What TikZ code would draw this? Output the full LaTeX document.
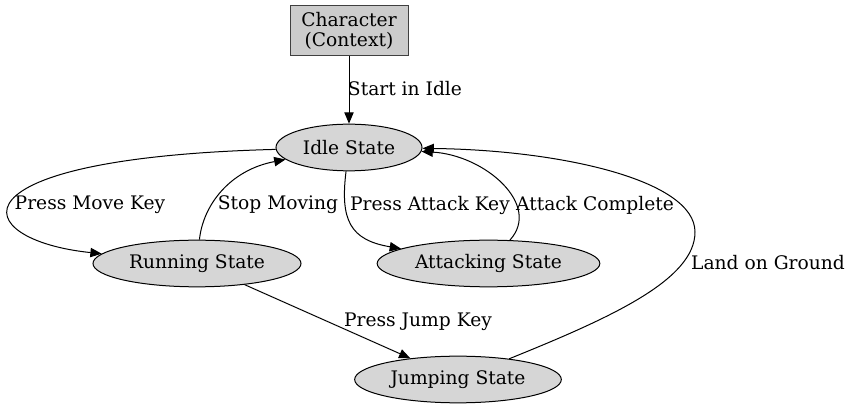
\documentclass[tikz,border=0pt]{standalone}
\usepackage{fontspec}
\setmainfont{DejaVu Serif}
\usetikzlibrary{shapes.geometric, arrows.meta}

\begin{document}
\begin{tikzpicture}[x=0.75pt, y=-0.75pt, ->, >={Triangle[length=8.5pt, width=7pt]}, line width=0.75pt, font=\fontsize{14}{15}\selectfont,
  state/.style={ellipse, draw, fill=black!16, inner sep=0pt, minimum height=35pt},
  lbl/.style={inner sep=0pt}]
\useasboundingbox (0,0) rectangle (850,409);
\node[draw=black!75, fill=black!20, minimum width=88.5pt, minimum height=38pt, align=center, inner sep=0pt] (ctx) at (349,30.5) {Character\\(Context)};
\node[state, minimum width=109.5pt] (idle) at (349,147.5) {Idle State};
\node[state, minimum width=156pt] (run) at (197,263.5) {Running State};
\node[state, minimum width=167pt] (atk) at (488.5,263.5) {Attacking State};
\node[state, minimum width=155pt] (jump) at (458,379.5) {Jumping State};
% transitions
\draw (ctx) -- (idle);
\draw (idle) .. controls (-58,158) and (-32,240) .. (run);
\draw (run) .. controls (203,205) and (230,170) .. (idle);
\draw (idle) .. controls (340,220) and (350,240) .. (atk);
\draw (atk) .. controls (542,205) and (485,155) .. (idle);
\draw (run) -- (jump);
\draw (jump) .. controls (610,318) and (695,280) .. (695,232) .. controls (695,180) and (560,150) .. (idle);
% labels
\node[lbl] (start) at (405,89) {Start in Idle};
\node[lbl] (move) at (90,205) {Press Move Key};
\node[lbl] (stop) at (278,205) {Stop Moving};
\node[lbl] (attack) at (430,205) {Press Attack Key};
\node[lbl] (done) at (595,205) {Attack Complete};
\node[lbl] (jumpkey) at (418,322) {Press Jump Key};
\node[lbl] (land) at (768,263) {Land on Ground};
\end{tikzpicture}
\end{document}
